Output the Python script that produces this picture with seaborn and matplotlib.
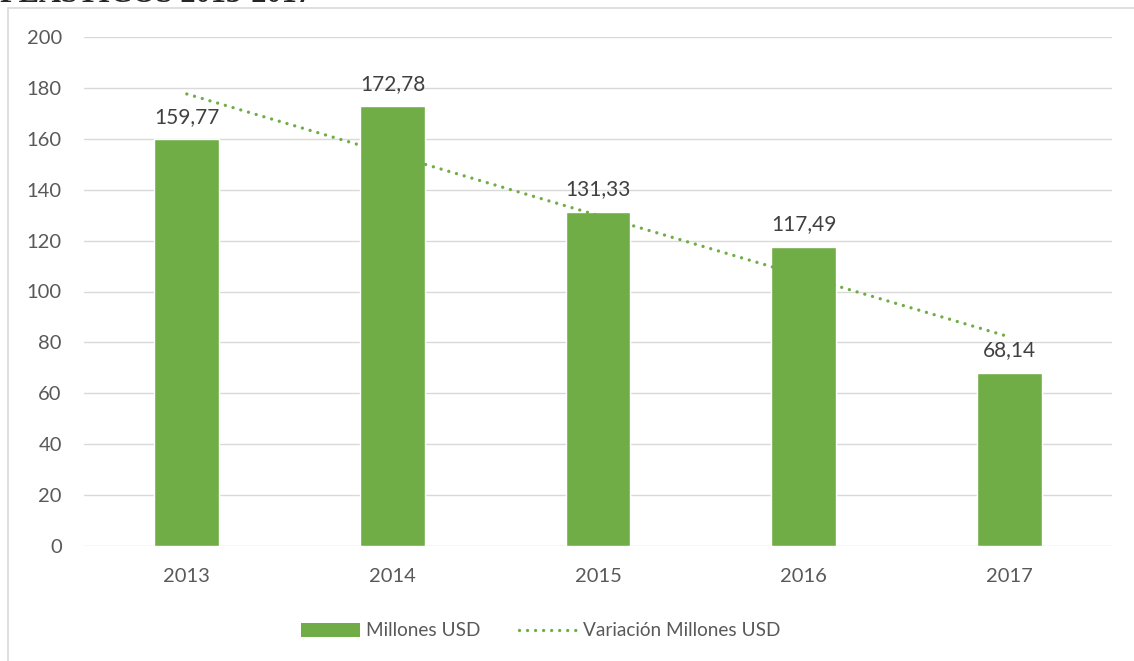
import matplotlib
matplotlib.use("Agg")
import matplotlib.pyplot as plt
from matplotlib.lines import Line2D
from matplotlib.patches import Patch, Rectangle
import numpy as np
import pandas as pd
import seaborn as sns

# ── Data ────────────────────────────────────────────────────────────────
YEARS = ["2013", "2014", "2015", "2016", "2017"]
MILLONES_USD = [159.77, 172.78, 131.33, 117.49, 68.14]
Y_TICKS = [0, 20, 40, 60, 80, 100, 120, 140, 160, 180, 200]

GREEN = "#70AD47"
GRID = "#D9D9D9"
TICK_COLOR = "#595959"
LABEL_COLOR = "#404040"

sns.set_style("white")
plt.rcParams["font.family"] = ["Lato", "DejaVu Sans"]

df = pd.DataFrame({"year": YEARS, "usd": MILLONES_USD})

fig = plt.figure(figsize=(11.34, 6.61), dpi=100)
W, H = 1134, 661
ax = fig.add_axes([84 / W, 1 - 546 / H, (1112 - 84) / W, (546 - 37) / H])

sns.barplot(data=df, x="year", y="usd", color=GREEN, saturation=1,
            width=0.315, ax=ax)

# linear trend line (Excel "Variación" trendline)
sns.regplot(x=np.arange(len(YEARS)), y=np.array(MILLONES_USD), ci=None,
            scatter=False, truncate=True, ax=ax,
            line_kws=dict(color=GREEN, lw=2.4, linestyle=(0, (0.01, 2.4)),
                          dash_capstyle="round"))

ax.set_xlim(-0.5, len(YEARS) - 0.5)
ax.set_ylim(0, 200)
ax.set_yticks(Y_TICKS)
ax.set_xlabel("")
ax.set_ylabel("")
ax.grid(axis="y", color=GRID, lw=1.0)
ax.set_axisbelow(True)
for s in ax.spines.values():
    s.set_visible(False)
ax.tick_params(axis="y", length=0, pad=16, labelsize=14.5, labelcolor=TICK_COLOR)
ax.tick_params(axis="x", length=0, pad=16, labelsize=14.5, labelcolor=TICK_COLOR)

# value labels with comma decimals
for i, v in enumerate(MILLONES_USD):
    ax.annotate(f"{v:.2f}".replace(".", ","), xy=(i, v), xytext=(0, 12),
                textcoords="offset points", ha="center", va="baseline",
                fontsize=15, color=LABEL_COLOR)

handles = [
    Patch(facecolor=GREEN, edgecolor="none", label="Millones USD"),
    Line2D([0], [0], color=GREEN, lw=2.4, linestyle=(0, (0.01, 2.4)),
           dash_capstyle="round", label="Variación Millones USD"),
]
fig.legend(handles=handles, loc="center", bbox_to_anchor=(541 / W, 1 - 631 / H),
           ncol=2, frameon=False, fontsize=13.7, handlelength=3.1,
           handletextpad=0.3, columnspacing=2.0, labelcolor=TICK_COLOR)

# chart area border (only left and top visible in the crop)
fig.patches.append(Rectangle((8 / W, -0.1), 1.2, 1.1 - 8 / H,
                             transform=fig.transFigure, fill=False,
                             edgecolor=GRID, lw=1.2))

# title cut off at the top of the image
fig.text(0.0, 1 - 1.5 / H, "PLÁSTICOS 2013-2017", fontsize=22, weight="bold",
         family=["Liberation Serif", "DejaVu Serif"], va="baseline", ha="left")

fig.savefig("out.png", dpi=100)
